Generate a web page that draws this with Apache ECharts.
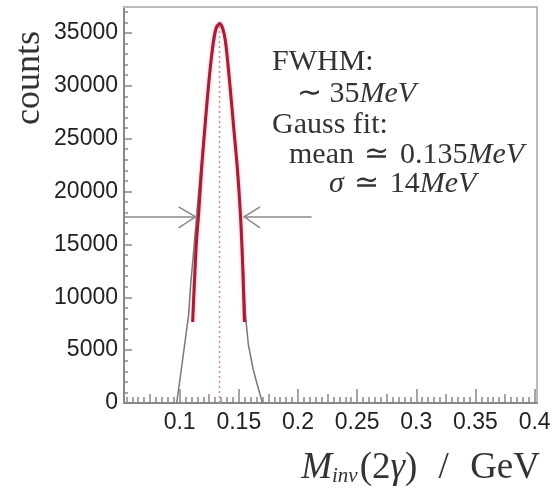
<!DOCTYPE html>
<html><head><meta charset="utf-8">
<script src="https://cdn.jsdelivr.net/npm/echarts@6/dist/echarts.min.js"></script>
<style>html,body{margin:0;padding:0;background:#fff}#c{width:552px;height:501px}</style>
</head><body><div id="c"></div>
<script>
// ---- data ----
const xTickLabels = [0.1, 0.15, 0.2, 0.25, 0.3, 0.35, 0.4];
const yTickLabels = [0, 5000, 10000, 15000, 20000, 25000, 30000, 35000];

// histogram of M_inv(2gamma) (gray)
const histX = [0.0975, 0.1008, 0.1051, 0.1076, 0.1093, 0.112, 0.115, 0.119, 0.123, 0.127, 0.131, 0.134, 0.137, 0.141, 0.145, 0.149, 0.152, 0.154, 0.1555, 0.1581, 0.1623, 0.1657, 0.170];
const histY = [0, 2650, 6240, 8330, 11160, 14500, 18500, 23500, 28500, 32500, 35300, 36000, 35400, 32000, 27000, 21500, 17000, 12500, 8500, 5490, 3120, 1700, 0];

// Gauss fit curve (red)
const fitX = [0.111, 0.1126, 0.1143, 0.116, 0.1185, 0.1219, 0.1253, 0.1287, 0.1312, 0.1337, 0.1362, 0.1388, 0.1421, 0.1455, 0.1489, 0.1514, 0.1531, 0.1548];
const fitY = [7660, 11640, 15420, 17790, 22040, 26770, 31030, 34340, 35570, 35860, 35480, 34150, 30560, 26300, 22040, 17790, 13530, 7660];

// annotation values
const fitMean = 0.1337;
const fitPeak = 35860;
const halfMax = 17600;
const fwhmLeftX = 0.1135;
const fwhmRightX = 0.1545;
const arrowEndX = 0.2115;

const X_MIN = 0.053, X_MAX = 0.402, Y_MAX = 37450;

// tick positions
const xMidTicks = [], xMinorTicks = [];
for (let i = 11; i <= 80; i++) {
  const v = +(i * 0.005).toFixed(3);
  if (i % 10 === 0) continue;
  if (i % 10 === 5) { if (xTickLabels.indexOf(v) < 0) xMidTicks.push(v); continue; }
  xMinorTicks.push(v);
}
const yMinorTicks = [];
for (let v = 1000; v <= 37000; v += 1000) if (v % 5000 !== 0) yMinorTicks.push(v);

const AX = '#888';
const TXT = '#333';
const SERIF = '"Liberation Serif", serif';
const chart = echarts.init(document.getElementById('c'), null, {renderer: 'canvas'});

const baseX = {type: 'value', gridIndex: 0, min: X_MIN, max: X_MAX, splitLine: {show: false}};
const baseY = {type: 'value', gridIndex: 0, min: 0, max: Y_MAX, splitLine: {show: false}};

function rt() {
  return {
    n: {font: '30px ' + SERIF, fill: TXT},
    i: {font: 'italic 30px ' + SERIF, fill: TXT},
    o: {font: '30px ' + SERIF, fill: TXT, padding: [0, 3, 0, 3]}
  };
}

chart.setOption({
  animation: false,
  backgroundColor: '#fff',
  grid: {left: 124, right: 15, top: 7, bottom: 98, containLabel: false, outerBoundsMode: 'none'},
  xAxis: [
    Object.assign({}, baseX, {position: 'bottom',
      axisLine: {lineStyle: {color: AX, width: 2}},
      axisTick: {inside: true, length: 14, customValues: xTickLabels, lineStyle: {color: AX, width: 1.5}},
      axisLabel: {customValues: xTickLabels, fontSize: 23, color: '#222', margin: 8,
        fontFamily: '"Liberation Sans", Arial, sans-serif', formatter: v => String(+(+v).toFixed(2))}}),
    Object.assign({}, baseX, {position: 'bottom', axisLine: {show: false},
      axisTick: {inside: true, length: 9, customValues: xMidTicks, lineStyle: {color: AX, width: 1.5}},
      axisLabel: {show: false}}),
    Object.assign({}, baseX, {position: 'bottom', axisLine: {show: false},
      axisTick: {inside: true, length: 6, customValues: xMinorTicks, lineStyle: {color: AX, width: 1.5}},
      axisLabel: {show: false}}),
    Object.assign({}, baseX, {position: 'top', axisLine: {lineStyle: {color: '#bbb', width: 2}},
      axisTick: {show: false}, axisLabel: {show: false}})
  ],
  yAxis: [
    Object.assign({}, baseY, {position: 'left',
      axisLine: {lineStyle: {color: AX, width: 2}},
      axisTick: {inside: true, length: 8, customValues: yTickLabels, lineStyle: {color: AX, width: 1.5}},
      axisLabel: {customValues: yTickLabels, fontSize: 23, color: '#222', margin: 6,
        fontFamily: '"Liberation Sans", Arial, sans-serif', formatter: v => String(Math.round(v))}}),
    Object.assign({}, baseY, {position: 'left', axisLine: {show: false},
      axisTick: {inside: true, length: 4, customValues: yMinorTicks, lineStyle: {color: AX, width: 1.5}},
      axisLabel: {show: false}}),
    Object.assign({}, baseY, {position: 'right', axisLine: {lineStyle: {color: '#bbb', width: 2}},
      axisTick: {show: false}, axisLabel: {show: false}})
  ],
  series: [
    {
      name: 'histogram', type: 'line', xAxisIndex: 0, yAxisIndex: 0,
      data: histX.map((x, i) => [x, histY[i]]),
      showSymbol: false, lineStyle: {color: '#777', width: 1.5}, z: 2
    },
    {
      name: 'Gauss fit', type: 'line', xAxisIndex: 0, yAxisIndex: 0,
      data: fitX.map((x, i) => [x, fitY[i]]), smooth: 0.3,
      showSymbol: false, lineStyle: {color: '#a81c38', width: 3, shadowColor: 'rgba(230,80,100,0.5)', shadowBlur: 3}, z: 4
    },
    {
      name: 'mean', type: 'line', xAxisIndex: 0, yAxisIndex: 0,
      data: [[fitMean, 0], [fitMean, fitPeak]],
      showSymbol: false, lineStyle: {color: '#d38a8a', width: 1.5, type: [2, 3]}, z: 3
    },
    {
      name: 'FWHM', type: 'custom', xAxisIndex: 0, yAxisIndex: 0,
      data: [[fwhmLeftX, halfMax]], z: 5,
      renderItem: function (params, api) {
        const l0 = api.coord([X_MIN, halfMax]);
        const l1 = api.coord([fwhmLeftX, halfMax]);
        const r0 = api.coord([fwhmRightX, halfMax]);
        const r1 = api.coord([arrowEndX, halfMax]);
        const st = {stroke: '#888', lineWidth: 1.5, fill: null};
        return {type: 'group', children: [
          {type: 'line', shape: {x1: l0[0], y1: l0[1], x2: l1[0], y2: l1[1]}, style: st},
          {type: 'polyline', shape: {points: [[l1[0] - 17, l1[1] - 10], l1, [l1[0] - 17, l1[1] + 11]]}, style: st},
          {type: 'line', shape: {x1: r0[0], y1: r0[1], x2: r1[0], y2: r1[1]}, style: st},
          {type: 'polyline', shape: {points: [[r0[0] + 16, r0[1] - 10], r0, [r0[0] + 16, r0[1] + 11]]}, style: st}
        ]};
      }
    }
  ],
  graphic: [
    {type: 'text', x: 30, y: 78, rotation: Math.PI / 2,
      style: {text: 'counts', font: '36px ' + SERIF, fill: TXT, align: 'center', verticalAlign: 'middle'}},
    {type: 'text', x: 540, y: 468,
      style: {text: '{m|M}{s|inv}{n|(2}{g|γ}{n|)}{sp| / }{n|GeV}', align: 'right', verticalAlign: 'middle', fill: TXT,
        rich: {
          m: {font: 'italic 37px ' + SERIF, fill: TXT, lineHeight: 42},
          s: {font: 'italic 21px ' + SERIF, fill: TXT, verticalAlign: 'bottom', lineHeight: 42, padding: [0, 2, 2, 0]},
          n: {font: '37px ' + SERIF, fill: TXT, lineHeight: 42},
          sp: {font: '37px ' + SERIF, fill: TXT, lineHeight: 42, padding: [0, 12, 0, 12]},
          g: {font: 'italic 37px ' + SERIF, fill: TXT, lineHeight: 42}
        }}},
    {type: 'text', x: 272, y: 62, style: {text: 'FWHM:', font: '30px ' + SERIF, fill: TXT, verticalAlign: 'middle'}},
    {type: 'text', x: 297, y: 94, style: {text: '{n|∼ 35}{i|MeV}', verticalAlign: 'middle', rich: rt()}},
    {type: 'text', x: 272, y: 125, style: {text: 'Gauss fit:', font: '30px ' + SERIF, fill: TXT, verticalAlign: 'middle'}},
    {type: 'text', x: 289, y: 155, style: {text: '{n|mean }{o|≃}{n| 0.135}{i|MeV}', verticalAlign: 'middle', rich: rt()}},
    {type: 'text', x: 329, y: 184, style: {text: '{i|σ}{n| }{o|≃}{n| 14}{i|MeV}', verticalAlign: 'middle', rich: rt()}}
  ]
});
</script>
</body></html>
